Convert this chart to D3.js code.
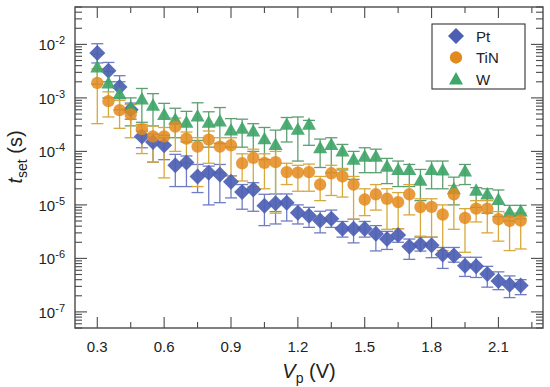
<!DOCTYPE html>
<html>
<head>
<meta charset="utf-8">
<script src="https://cdn.jsdelivr.net/npm/d3@7"></script>
<style>
  body { margin: 0; background: #fff; }
  text { font-family: "Liberation Sans", Arial, sans-serif; fill: #222; }
</style>
</head>
<body>
<svg id="chart" width="550" height="387"></svg>
<script>
(function(root) {
  // Data (V_p in volts, t_set in seconds)
  const vp = [0.30, 0.35, 0.40, 0.45, 0.50, 0.55, 0.60, 0.65, 0.70, 0.75,
              0.80, 0.85, 0.90, 0.95, 1.00, 1.05, 1.10, 1.15, 1.20, 1.25,
              1.30, 1.35, 1.40, 1.45, 1.50, 1.55, 1.60, 1.65, 1.70, 1.75,
              1.80, 1.85, 1.90, 1.95, 2.00, 2.05, 2.10, 2.15, 2.20];

  const ptVal = [6.9e-3, 3.2e-3, 1.6e-3, 6.0e-4, 1.9e-4, 1.5e-4, 1.3e-4, 5.5e-5, 6.2e-5, 3.4e-5,
                 4.0e-5, 3.7e-5, 2.7e-5, 1.75e-5, 1.95e-5, 9.6e-6, 1.07e-5, 1.1e-5, 7.1e-6, 6.3e-6,
                 5.1e-6, 5.5e-6, 3.6e-6, 3.6e-6, 3.6e-6, 2.9e-6, 2.3e-6, 2.75e-6, 1.67e-6, 1.82e-6,
                 1.77e-6, 1.18e-6, 1.13e-6, 7.3e-7, 7.1e-7, 5.1e-7, 3.8e-7, 3.2e-7, 3.1e-7];
  const ptHi = [1.03e-2, 4.6e-3, 2.6e-3, 8.0e-4, 2.4e-4, 2.1e-4, 1.8e-4, 8.8e-5, 8.2e-5, 5.7e-5,
                5.3e-5, 5.7e-5, 3.5e-5, 2.4e-5, 2.6e-5, 1.58e-5, 1.6e-5, 1.6e-5, 1.0e-5, 9.0e-6,
                7.6e-6, 8.0e-6, 4.9e-6, 5.4e-6, 4.9e-6, 4.1e-6, 3.2e-6, 3.6e-6, 2.3e-6, 2.5e-6,
                2.5e-6, 1.6e-6, 1.6e-6, 1.05e-6, 1.05e-6, 7.1e-7, 5.6e-7, 4.7e-7, 4.0e-7];
  const ptLo = [4.5e-3, 2.0e-3, 1.0e-3, 4.0e-4, 1.17e-4, 6.3e-5, 7.0e-5, 2.2e-5, 2.2e-5, 1.7e-5,
                1.0e-5, 1.1e-5, 1.35e-5, 8.3e-6, 7.6e-6, 4.1e-6, 4.4e-6, 5.0e-6, 4.4e-6, 3.8e-6,
                3.0e-6, 3.8e-6, 2.5e-6, 1.95e-6, 2.5e-6, 1.38e-6, 1.47e-6, 2.0e-6, 9.6e-7, 1.37e-6,
                1.03e-6, 6.5e-7, 8.5e-7, 4.6e-7, 4.4e-7, 2.9e-7, 2.6e-7, 1.85e-7, 2.1e-7];

  const tinVal = [1.9e-3, 8.7e-4, 5.9e-4, 4.9e-4, 2.6e-4, 1.9e-4, 1.9e-4, 2.9e-4, 1.73e-4, 1.23e-4,
                  1.66e-4, 1.23e-4, 1.3e-4, 6.0e-5, 7.6e-5, 6.1e-5, 6.3e-5, 4.1e-5, 4.0e-5, 4.1e-5,
                  2.4e-5, 3.9e-5, 3.4e-5, 2.4e-5, 1.26e-5, 1.58e-5, 1.3e-5, 1.13e-5, 1.58e-5, 9.1e-6,
                  9.2e-6, 6.6e-6, 1.58e-5, 5.7e-6, 8.5e-6, 8.5e-6, 5.4e-6, 5.0e-6, 5.1e-6];
  const tinHi = [3.5e-3, 1.3e-3, 9.0e-4, 7.5e-4, 3.2e-4, 3.0e-4, 2.8e-4, 4.2e-4, 2.3e-4, 1.8e-4,
                 2.4e-4, 1.8e-4, 1.8e-4, 9.0e-5, 1.1e-4, 9.0e-5, 1.0e-4, 6.0e-5, 5.5e-5, 5.8e-5,
                 3.4e-5, 5.5e-5, 4.8e-5, 3.4e-5, 2.0e-5, 2.4e-5, 2.0e-5, 1.7e-5, 2.4e-5, 1.3e-5,
                 1.3e-5, 1.0e-5, 2.3e-5, 8.5e-6, 1.2e-5, 1.2e-5, 7.5e-6, 7.0e-6, 7.0e-6];
  const tinLo = [3.3e-4, 4.4e-4, 2.7e-4, 1.8e-4, 9.1e-5, 6.3e-5, 3.2e-5, 1.0e-4, 6.0e-5, 2.2e-5,
                 6.0e-5, 4.0e-5, 3.5e-5, 2.8e-5, 2.2e-5, 2.0e-5, 7.0e-6, 2.4e-5, 1.8e-5, 1.8e-5,
                 1.2e-5, 1.5e-5, 1.4e-5, 5.4e-6, 6.3e-6, 8.0e-6, 3.5e-6, 3.6e-6, 6.5e-6, 2.6e-6,
                 2.5e-6, 1.4e-6, 3.5e-6, 1.3e-6, 4.8e-6, 3.0e-6, 2.1e-6, 1.4e-6, 1.5e-6];

  const wVal = [3.8e-3, 1.9e-3, 1.2e-3, 6.7e-4, 9.5e-4, 7.3e-4, 4.9e-4, 4.0e-4, 3.5e-4, 4.6e-4,
                3.5e-4, 3.7e-4, 2.5e-4, 2.7e-4, 2.4e-4, 1.73e-4, 1.35e-4, 3.2e-4, 2.6e-4, 3.2e-4,
                1.17e-4, 1.35e-4, 1.02e-4, 7.1e-5, 8.1e-5, 8.1e-5, 5.3e-5, 4.6e-5, 4.6e-5, 2.9e-5,
                4.6e-5, 4.5e-5, 2.0e-5, 4.3e-5, 1.87e-5, 1.6e-5, 1.26e-5, 7.4e-6, 7.7e-6];
  const wHi = [6.5e-3, 3.1e-3, 2.0e-3, 1.0e-3, 1.5e-3, 1.2e-3, 7.9e-4, 6.4e-4, 5.6e-4, 8.1e-4,
               5.5e-4, 6.6e-4, 4.1e-4, 4.0e-4, 3.3e-4, 2.8e-4, 2.5e-4, 4.3e-4, 4.4e-4, 3.8e-4,
               1.7e-4, 1.8e-4, 1.35e-4, 1.0e-4, 1.17e-4, 1.1e-4, 7.4e-5, 6.6e-5, 5.7e-5, 4.6e-5,
               6.6e-5, 6.6e-5, 3.3e-5, 5.7e-5, 2.1e-5, 2.0e-5, 1.9e-5, 9.8e-6, 9.8e-6];
  const wLo = [1.8e-3, 1.0e-3, 6.0e-4, 3.0e-4, 3.5e-4, 3.0e-4, 2.0e-4, 1.8e-4, 1.5e-4, 1.6e-4,
               1.2e-4, 1.4e-4, 1.2e-4, 1.2e-4, 1.0e-4, 7.0e-5, 7.5e-6, 1.5e-4, 6.6e-5, 1.3e-4,
               5.0e-5, 4.0e-5, 4.5e-5, 3.0e-5, 4.0e-5, 4.0e-5, 2.5e-5, 2.2e-5, 2.2e-5, 1.2e-5,
               2.0e-5, 2.0e-5, 1.0e-5, 2.4e-5, 9.0e-6, 7.0e-6, 6.0e-6, 5.0e-6, 5.5e-6];

  const seriesNames = ["Pt", "TiN", "W"];
  const xTicks = [0.3, 0.6, 0.9, 1.2, 1.5, 1.8, 2.1];
  const xMinor = [0.45, 0.75, 1.05, 1.35, 1.65, 1.95, 2.25];
  const yTickExp = [-7, -6, -5, -4, -3, -2];

  // Layout
  const left = 75, right = 543, top = 7, bottom = 328;
  const svg = d3.select("#chart");

  const x = d3.scaleLinear().domain([0.2, 2.3]).range([left, right]);
  const y = d3.scaleLog().domain([5e-8, 5e-2]).range([bottom, top]);

  const styles = {
    Pt:  { fill: "#4c5fb3", err: "#6f7cc4", shape: "diamond" },
    TiN: { fill: "#e38a1c", err: "#d7a83a", shape: "circle" },
    W:   { fill: "#3fa568", err: "#5e9f70", shape: "triangle" }
  };

  const series = [
    { name: "Pt",  val: ptVal,  hi: ptHi,  lo: ptLo },
    { name: "W",   val: wVal,   hi: wHi,   lo: wLo },
    { name: "TiN", val: tinVal, hi: tinHi, lo: tinLo }
  ];

  function markerPath(shape) {
    if (shape === "diamond") return "M0,-8L8,0L0,8L-8,0Z";
    if (shape === "triangle") return "M0,-7L7,5.5L-7,5.5Z";
    return d3.symbol().type(d3.symbolCircle).size(120)();
  }

  // Error bars
  const errG = svg.append("g").attr("class", "errors");
  series.forEach(function(s) {
    const st = styles[s.name];
    const rows = vp.map((v, i) => ({ x: v, lo: s.lo[i], hi: s.hi[i] }));
    const g = errG.append("g").attr("stroke", st.err).attr("stroke-width", 1.3).attr("fill", "none");
    g.selectAll("line.v").data(rows).enter().append("line")
      .attr("x1", d => x(d.x)).attr("x2", d => x(d.x))
      .attr("y1", d => y(d.lo)).attr("y2", d => y(d.hi));
    g.selectAll("line.lo").data(rows).enter().append("line")
      .attr("x1", d => x(d.x) - 6).attr("x2", d => x(d.x) + 6)
      .attr("y1", d => y(d.lo)).attr("y2", d => y(d.lo));
    g.selectAll("line.hi").data(rows).enter().append("line")
      .attr("x1", d => x(d.x) - 6).attr("x2", d => x(d.x) + 6)
      .attr("y1", d => y(d.hi)).attr("y2", d => y(d.hi));
  });

  // Markers
  const markG = svg.append("g").attr("class", "markers");
  series.forEach(function(s) {
    const st = styles[s.name];
    markG.append("g").selectAll("path")
      .data(vp.map((v, i) => ({ x: v, y: s.val[i] })))
      .enter().append("path")
      .attr("d", markerPath(st.shape))
      .attr("transform", d => `translate(${x(d.x)},${y(d.y)})`)
      .attr("fill", st.fill)
      .attr("fill-opacity", s.name === "TiN" ? 0.85 : 0.92);
  });

  // Frame and ticks
  const axisColor = "#4a4a4a";
  const frame = svg.append("g").attr("stroke", axisColor).attr("fill", "none");
  frame.append("rect")
    .attr("x", left).attr("y", top).attr("width", right - left).attr("height", bottom - top)
    .attr("stroke-width", 1.4);

  const tickG = svg.append("g").attr("stroke", axisColor).attr("stroke-width", 1.1);
  function xTick(v, len) {
    tickG.append("line").attr("x1", x(v)).attr("x2", x(v)).attr("y1", bottom).attr("y2", bottom - len);
    tickG.append("line").attr("x1", x(v)).attr("x2", x(v)).attr("y1", top).attr("y2", top + len);
  }
  xTicks.forEach(v => xTick(v, 11));
  xMinor.forEach(v => xTick(v, 6));

  function yTick(v, len) {
    tickG.append("line").attr("x1", left).attr("x2", left + len).attr("y1", y(v)).attr("y2", y(v));
    tickG.append("line").attr("x1", right).attr("x2", right - len).attr("y1", y(v)).attr("y2", y(v));
  }
  const [yMin, yMax] = y.domain();
  y.ticks(60).forEach(function(v) {
    if (v < yMin || v > yMax) return;
    const m = Math.round(v / Math.pow(10, Math.floor(Math.log10(v) + 1e-9)));
    yTick(v, m === 1 ? 12 : 7);
  });

  // Tick labels
  svg.append("g").selectAll("text").data(xTicks).enter().append("text")
    .attr("x", d => x(d)).attr("y", 352)
    .attr("text-anchor", "middle").attr("font-size", 15)
    .text(d => d.toFixed(1));

  const yl = svg.append("g").selectAll("text").data(yTickExp).enter().append("text")
    .attr("x", 65).attr("y", d => y(Math.pow(10, d)) + 6)
    .attr("text-anchor", "end").attr("font-size", 15);
  yl.append("tspan").text("10");
  yl.append("tspan").attr("dy", -6).attr("font-size", 11).text(d => "-" + Math.abs(d));

  // Axis titles
  const xt = svg.append("text").attr("x", 309).attr("y", 378)
    .attr("text-anchor", "middle").attr("font-size", 20);
  xt.append("tspan").attr("font-style", "italic").text("V");
  xt.append("tspan").attr("dy", 5).attr("font-size", 14).text("p");
  xt.append("tspan").attr("dy", -5).text(" (V)");

  const yt = svg.append("text").attr("transform", "translate(22,157) rotate(-90)")
    .attr("text-anchor", "middle").attr("font-size", 20);
  yt.append("tspan").attr("font-style", "italic").text("t");
  yt.append("tspan").attr("dy", 5).attr("font-size", 14).text("set");
  yt.append("tspan").attr("dy", -5).text(" (s)");

  // Legend
  const leg = svg.append("g");
  leg.append("rect").attr("x", 432).attr("y", 24).attr("width", 93).attr("height", 65)
    .attr("fill", "#fff").attr("stroke", "#333").attr("stroke-width", 1.1);
  const legendY = d3.scalePoint().domain(seriesNames).range([36, 79]);
  seriesNames.forEach(function(n) {
    const st = styles[n];
    leg.append("path").attr("d", markerPath(st.shape))
      .attr("transform", `translate(456,${legendY(n)})`).attr("fill", st.fill);
    leg.append("text").attr("x", 476).attr("y", legendY(n) + 5.5)
      .attr("font-size", 15).text(n);
  });
})(window);
</script>
</body>
</html>
